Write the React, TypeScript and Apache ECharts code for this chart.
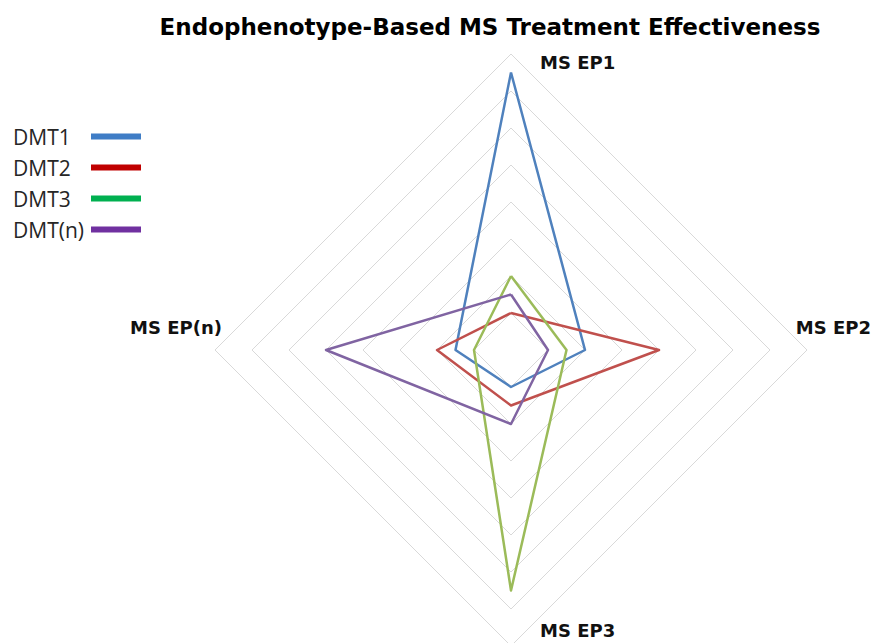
import React, { useEffect, useRef } from "react";
import * as echarts from "echarts";

const indicators = ["MS EP1", "MS EP(n)", "MS EP3", "MS EP2"];
const seriesNames = ["DMT1", "DMT2", "DMT3", "DMT(n)"];
// values in indicator order: EP1, EP(n), EP3, EP2
const dmt1 = [7.5, 1.5, 1, 2];
const dmt2 = [1, 2, 1.5, 4];
const dmt3 = [2, 1, 6.5, 1.5];
const dmtN = [1.5, 5, 2, 1];
const lineColors = ["#4F81BD", "#C0504D", "#9BBB59", "#8064A2"];
const legendColors = ["#3F7DC6", "#C00000", "#00B050", "#7030A0"];
const maxValue = 8;

const labelFont = "bold 18px 'DejaVu Sans'";

export default function App() {
  const ref = useRef<HTMLDivElement>(null);
  useEffect(() => {
    if (!ref.current) return;
    const chart = echarts.init(ref.current, undefined, { renderer: "svg" });
    const values = [dmt1, dmt2, dmt3, dmtN];
    chart.setOption({
      animation: false,
      backgroundColor: "#ffffff",
      title: {
        text: "Endophenotype-Based MS Treatment Effectiveness",
        left: 485,
        textAlign: "center",
        top: 10,
        textStyle: {
          fontFamily: "DejaVu Sans",
          fontWeight: "bold",
          fontSize: 23,
          color: "#000",
        },
      },
      legend: {
        orient: "vertical",
        left: 13,
        top: 126,
        padding: 0,
        align: "right",
        itemWidth: 50,
        itemHeight: 6,
        itemGap: 10,
        icon: "rect",
        formatter: "{a|{name}}",
        textStyle: {
          fontFamily: "Open Sans",
          fontSize: 21,
          color: "#262626",
          rich: {
            a: {
              width: 73,
              align: "left",
              fontFamily: "Open Sans",
              fontSize: 21,
              color: "#262626",
            },
          },
        },
        data: seriesNames.map((n, i) => ({
          name: n,
          itemStyle: { color: legendColors[i] },
        })),
      },
      radar: {
        center: [511, 350],
        radius: 296,
        shape: "polygon",
        splitNumber: 8,
        startAngle: 90,
        indicator: indicators.map((name) => ({ name, max: maxValue, min: 0 })),
        axisName: { show: false },
        axisLine: { show: false },
        axisTick: { show: false },
        splitArea: { show: false },
        splitLine: { lineStyle: { color: "#D9D9D9", width: 1 } },
      },
      series: [
        {
          type: "radar",
          symbol: "none",
          data: seriesNames.map((n, i) => ({
            name: n,
            value: values[i],
            lineStyle: { color: lineColors[i], width: 2.5 },
            itemStyle: { color: lineColors[i] },
          })),
        },
      ],
      graphic: [
        { type: "text", x: 540, y: 62, style: { text: indicators[0], font: labelFont, fill: "#111", verticalAlign: "middle" } },
        { type: "text", x: 222, y: 327, style: { text: indicators[1], font: labelFont, fill: "#111", verticalAlign: "middle", align: "right" } },
        { type: "text", x: 540, y: 630, style: { text: indicators[2], font: labelFont, fill: "#111", verticalAlign: "middle" } },
        { type: "text", x: 871, y: 327, style: { text: indicators[3], font: labelFont, fill: "#111", verticalAlign: "middle", align: "right" } },
      ],
    });
    return () => chart.dispose();
  }, []);
  return (
    <div
      ref={ref}
      style={{ position: "fixed", left: 0, top: 0, width: 875, height: 643 }}
    />
  );
}
